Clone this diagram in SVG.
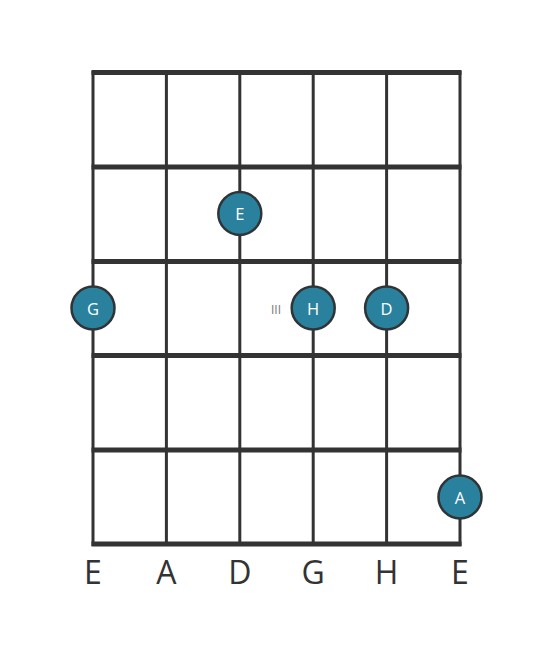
<svg xmlns="http://www.w3.org/2000/svg" width="553" height="656" viewBox="0 0 553 656">
<style>
.fret{stroke:#333;stroke-width:5;stroke-linecap:butt}
.str{stroke:#333;stroke-width:3}
.dot circle{fill:#2a819e;stroke:#2f3436;stroke-width:2.5}
.dot text{fill:#fff;font-family:"Open Sans",sans-serif;font-size:16.5px;text-anchor:middle;dominant-baseline:central}
.lbl{fill:#333;font-family:"Open Sans",sans-serif;font-size:32px;text-anchor:middle}
.pos{fill:#777;font-family:"Open Sans",sans-serif;font-size:12px;text-anchor:middle;dominant-baseline:central}
</style>
<rect width="553" height="656" fill="#fff"/>
<g id="grid">
<line class="str" x1="93" y1="71" x2="93" y2="546"/>
<line class="str" x1="166.4" y1="71" x2="166.4" y2="546"/>
<line class="str" x1="239.8" y1="71" x2="239.8" y2="546"/>
<line class="str" x1="313.2" y1="71" x2="313.2" y2="546"/>
<line class="str" x1="386.6" y1="71" x2="386.6" y2="546"/>
<line class="str" x1="460" y1="71" x2="460" y2="546"/>
<line class="fret" x1="91.5" y1="72.5" x2="461.5" y2="72.5"/>
<line class="fret" x1="91.5" y1="167" x2="461.5" y2="167"/>
<line class="fret" x1="91.5" y1="261.5" x2="461.5" y2="261.5"/>
<line class="fret" x1="91.5" y1="355.5" x2="461.5" y2="355.5"/>
<line class="fret" x1="91.5" y1="450" x2="461.5" y2="450"/>
<line class="fret" x1="91.5" y1="544" x2="461.5" y2="544"/>
</g>
<g id="note-E" class="dot"><circle cx="239.8" cy="213.5" r="21.5"/><text x="239.8" y="213.5">E</text></g>
<g id="note-G" class="dot"><circle cx="93" cy="308" r="21.5"/><text x="93" y="308">G</text></g>
<g id="note-H" class="dot"><circle cx="313.2" cy="308" r="21.5"/><text x="313.2" y="308">H</text></g>
<g id="note-D" class="dot"><circle cx="386.6" cy="308" r="21.5"/><text x="386.6" y="308">D</text></g>
<g id="note-A" class="dot"><circle cx="460" cy="497" r="21.5"/><text x="460" y="497">A</text></g>
<text class="pos" x="276" y="309">III</text>
<g id="labels">
<text class="lbl" x="93" y="584">E</text>
<text class="lbl" x="166.4" y="584">A</text>
<text class="lbl" x="239.8" y="584">D</text>
<text class="lbl" x="313.2" y="584">G</text>
<text class="lbl" x="386.6" y="584">H</text>
<text class="lbl" x="460" y="584">E</text>
</g>
</svg>
